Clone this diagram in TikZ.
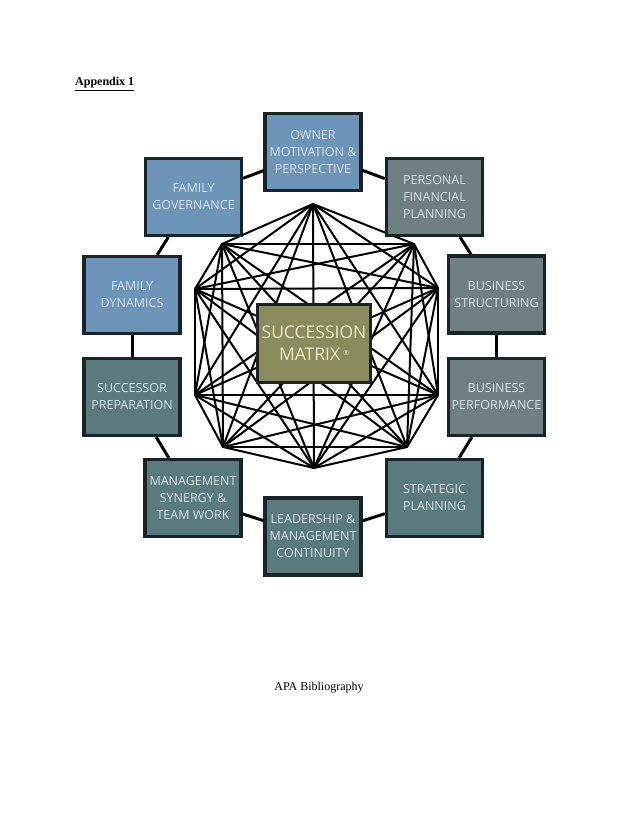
\documentclass[tikz,border=0pt]{standalone}
\usepackage{fontspec}
\setmainfont{Liberation Serif}
\newfontfamily\boxfont{Open Sans}
\definecolor{bluebox}{RGB}{108,149,183}
\definecolor{graybox}{RGB}{112,128,130}
\definecolor{tealbox}{RGB}{90,123,126}
\definecolor{olivebox}{RGB}{138,139,92}
\definecolor{boxline}{RGB}{26,36,38}
\definecolor{boxtext}{RGB}{214,224,229}
\definecolor{matrixtext}{RGB}{236,234,200}
\begin{document}
\begin{tikzpicture}[x=1pt,y=-1pt,
  box/.style={draw=boxline, line width=3.2pt, minimum width=96pt, minimum height=77pt,
    inner sep=0pt, align=center, text=boxtext,
    font=\boxfont\fontsize{12.5}{17}\selectfont},
  hub/.style={draw=boxline, line width=3.2pt, fill=olivebox, minimum width=113pt, minimum height=78pt,
    inner sep=0pt, align=center, text=matrixtext,
    font=\boxfont\fontsize{17.5}{22}\selectfont},
  net/.style={line width=2pt, black},
  link/.style={line width=3pt, black}]
\useasboundingbox (0,0) rectangle (638,826);
\fill[white] (0,0) rectangle (638,826);

% title texts
\node[anchor=base west, inner sep=0pt, font=\fontsize{12}{14}\selectfont\bfseries] (app) at (75,86) {\underline{Appendix 1}};
\node[anchor=base, inner sep=0pt, font=\fontsize{12}{14}\selectfont] (bib) at (319,690) {APA Bibliography};

% network vertices
\coordinate (n1) at (313,204);
\coordinate (n2) at (414,244);
\coordinate (n3) at (438,288);
\coordinate (n4) at (438,395);
\coordinate (n5) at (407,447);
\coordinate (n6) at (314,468);
\coordinate (n7) at (223,447);
\coordinate (n8) at (195,395);
\coordinate (n9) at (195,289);
\coordinate (n10) at (222,244);
\foreach \i [evaluate=\i as \k using int(\i+1)] in {1,...,9}{
  \foreach \j in {\k,...,10}{
    \draw[net, line cap=round] (n\i) -- (n\j);
  }
}

% boxes
\node[box, fill=bluebox] (own) at (313,152) {OWNER\\MOTIVATION \&\\PERSPECTIVE};
\node[box, fill=bluebox] (fg) at (193.5,197) {FAMILY\\GOVERNANCE};
\node[box, fill=graybox] (pfp) at (434.5,197) {PERSONAL\\FINANCIAL\\PLANNING};
\node[box, fill=bluebox] (fd) at (132,295) {FAMILY\\DYNAMICS};
\node[box, fill=graybox] (bs) at (496.5,294.5) {BUSINESS\\STRUCTURING};
\node[box, fill=tealbox] (spp) at (132,397) {SUCCESSOR\\PREPARATION};
\node[box, fill=graybox] (bp) at (496.5,397) {BUSINESS\\PERFORMANCE};
\node[box, fill=tealbox] (msw) at (193,498) {MANAGEMENT\\SYNERGY \&\\TEAM WORK};
\node[box, fill=tealbox] (spl) at (434.5,498) {STRATEGIC\\PLANNING};
\node[box, fill=tealbox] (lmc) at (313,536.5) {LEADERSHIP \&\\MANAGEMENT\\CONTINUITY};
\node[hub] (hub) at (314,343.5) {SUCCESSION\\MATRIX\,\raisebox{0.55ex}{\fontsize{7}{8}\selectfont ®}};

% ring connectors
\draw[link] (own) -- (pfp);
\draw[link] (pfp) -- (bs);
\draw[link] (bs) -- (bp);
\draw[link] (bp) -- (spl);
\draw[link] (spl) -- (lmc);
\draw[link] (lmc) -- (msw);
\draw[link] (msw) -- (spp);
\draw[link] (spp) -- (fd);
\draw[link] (fd) -- (fg);
\draw[link] (fg) -- (own);
\end{tikzpicture}
\end{document}
